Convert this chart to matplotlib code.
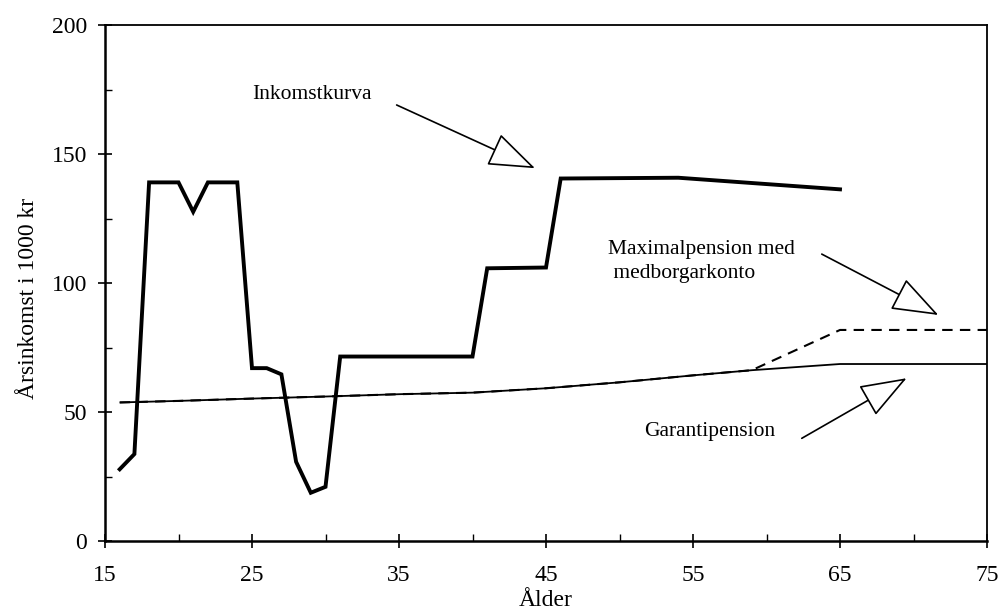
import matplotlib
matplotlib.use("Agg")
import matplotlib.pyplot as plt
from matplotlib.patches import FancyArrowPatch
from matplotlib.ticker import MultipleLocator

# ---- data ----
income_age = [16, 17, 18, 20, 21, 22, 24, 25, 26, 27, 28, 29, 30, 31, 40, 41, 45, 46, 54, 65]
income_val = [27.8, 33.7, 139, 139, 127.6, 139, 139, 67, 67, 64.6, 30.7, 18.7, 21, 71.5,
              71.5, 105.7, 106, 140.5, 140.8, 136.3]

garanti_age = [16, 20, 25, 30, 35, 40, 45, 50, 55, 59, 65, 75]
garanti_val = [53.7, 54.3, 55.2, 56.0, 56.9, 57.5, 59.2, 61.5, 64.2, 66.2, 68.6, 68.6]

maxpens_age = [16, 20, 25, 30, 35, 40, 45, 50, 55, 59, 65, 75]
maxpens_val = [53.7, 54.3, 55.2, 56.0, 56.9, 57.5, 59.2, 61.5, 64.2, 66.2, 81.8, 81.8]

xticks = [15, 25, 35, 45, 55, 65, 75]
yticks = [0, 50, 100, 150, 200]

plt.rcParams['font.family'] = ['Liberation Serif', 'DejaVu Serif']

fig = plt.figure(figsize=(9.98, 6.09), dpi=100)
ax = fig.add_axes([105/998, 1-541/609, (987-105)/998, (541-25)/609])

ax.plot(garanti_age, garanti_val, color='black', lw=1.3, solid_capstyle='butt')
ax.plot(maxpens_age, maxpens_val, color='black', lw=1.5, ls=(0, (5, 3.5)))
ax.plot(income_age, income_val, color='black', lw=2.8, solid_joinstyle='miter')

ax.set_xlim(15, 75)
ax.set_ylim(0, 200)
ax.set_xticks(xticks)
ax.set_yticks(yticks)
ax.xaxis.set_minor_locator(MultipleLocator(5))
ax.yaxis.set_minor_locator(MultipleLocator(25))
ax.tick_params(which='major', direction='inout', length=10, width=1.2,
               labelsize=17, color='black')
ax.tick_params(axis='x', which='major', pad=12)
ax.tick_params(axis='y', which='major', pad=8)
ax.tick_params(which='minor', direction='in', length=5, width=1.0)

for s in ['left', 'bottom']:
    ax.spines[s].set_linewidth(1.8)
for s in ['top', 'right']:
    ax.spines[s].set_linewidth(1.3)

ax.set_xlabel('Ålder', fontsize=17, labelpad=3)
ax.set_ylabel('Årsinkomst i 1000 kr', fontsize=17)
ax.yaxis.set_label_coords(-0.075, 0.47)

tfs = 15.5
ax.text(25.0, 173, 'Inkomstkurva', fontsize=tfs, ha='left', va='center')
ax.text(49.2, 108.5, 'Maximalpension med\n medborgarkonto', fontsize=tfs,
        ha='left', va='center', linespacing=1.35)
ax.text(51.7, 42.4, 'Garantipension', fontsize=tfs, ha='left', va='center')

def arrow(x0, y0, x1, y1):
    a = FancyArrowPatch((x0, y0), (x1, y1),
                        arrowstyle='-|>,head_length=3.0,head_width=1.1',
                        mutation_scale=10, fc='white', ec='black', lw=1.2,
                        shrinkA=0, shrinkB=0)
    ax.add_patch(a)

arrow(34.84, 169, 44.25, 144.5)
arrow(63.76, 111.2, 71.69, 87.6)
arrow(62.4, 39.8, 69.53, 63.1)

fig.savefig('out.png', dpi=100)
